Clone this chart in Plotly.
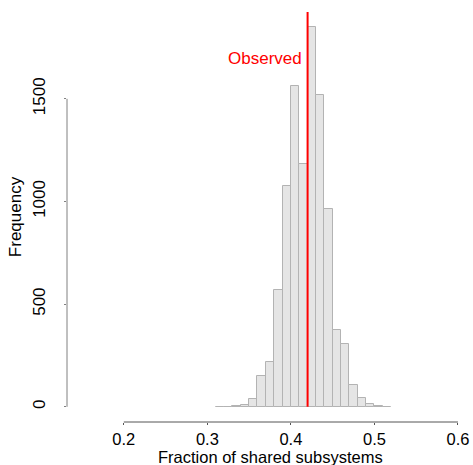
import plotly.graph_objects as go

# Histogram data (bin left edges, width 0.01)
bin_left = [0.31, 0.32, 0.33, 0.34, 0.35, 0.36, 0.37, 0.38, 0.39, 0.40, 0.41,
            0.42, 0.43, 0.44, 0.45, 0.46, 0.47, 0.48, 0.49, 0.50, 0.51]
counts = [1, 1, 3, 11, 37, 149, 216, 568, 1074, 1564, 1183,
          1849, 1517, 962, 373, 308, 106, 42, 16, 3, 1]
bin_width = 0.01
observed = 0.42

x_ticks = [0.2, 0.3, 0.4, 0.5, 0.6]
x_labels = ["0.2", "0.3", "0.4", "0.5", "0.6"]
y_ticks = [0, 500, 1000, 1500]
y_labels = ["0", "500", "1000", "1500"]

# R-style ranges: xlim c(0.15, 0.6), ylim c(0, max) extended by 4%
xlim = (0.15, 0.6)
ylim = (0, max(counts))
dx = (xlim[1] - xlim[0]) * 0.04
dy = (ylim[1] - ylim[0]) * 0.04
x_range = [xlim[0] - dx, xlim[1] + dx]
y_range = [ylim[0] - dy, ylim[1] + dy]

centers = [b + bin_width / 2 for b in bin_left]

font = "Liberation Sans, Arial, Helvetica, sans-serif"

fig = go.Figure()
fig.add_trace(go.Bar(
    x=centers, y=counts, width=[bin_width] * len(counts),
    marker=dict(color="#e5e5e5", line=dict(color="#b3b3b3", width=1)),
    hoverinfo="x+y", showlegend=False,
))

shapes = [
    # observed line
    dict(type="line", xref="x", yref="y", x0=observed, x1=observed,
         y0=0, y1=y_range[1], line=dict(color="#ff0000", width=2)),
    # x axis line (0.2 .. 0.6) at bottom of plot region
    dict(type="line", xref="x", yref="paper", x0=x_ticks[0], x1=x_ticks[-1],
         y0=0, y1=0, line=dict(color="#555555", width=1)),
    # y axis line (0 .. 1500) at left of plot region
    dict(type="line", xref="paper", yref="y", x0=0, x1=0,
         y0=y_ticks[0], y1=y_ticks[-1], line=dict(color="#808080", width=1)),
]

fig.update_layout(
    width=473, height=465,
    margin=dict(l=67, r=0, t=12, b=43, pad=0),
    paper_bgcolor="white", plot_bgcolor="white",
    bargap=0,
    shapes=shapes,
    font=dict(family=font, size=17, color="black"),
    annotations=[
        dict(
            x=observed, y=1697, xref="x", yref="y", text="Observed",
            showarrow=False, xanchor="right", yanchor="middle", xshift=-4,
            font=dict(family=font, size=17, color="#ff0000"),
        ),
        dict(
            x=0.5, y=0, xref="paper", yref="paper",
            text="Fraction of shared subsystems",
            showarrow=False, xanchor="center", yanchor="top", yshift=-25,
            borderpad=0,
            font=dict(family=font, size=16.5, color="black"),
        ),
    ],
    xaxis=dict(
        range=x_range, showgrid=False, zeroline=False, showline=False,
        tickmode="array", tickvals=x_ticks, ticktext=x_labels,
        ticks="outside", ticklen=2, tickcolor="#555555",
        ticklabelstandoff=0, tickfont=dict(size=16.5),
    ),
    yaxis=dict(
        range=y_range, showgrid=False, zeroline=False, showline=False,
        tickmode="array", tickvals=y_ticks, ticktext=y_labels,
        ticks="outside", ticklen=2, tickcolor="#808080",
        tickangle=-90, ticklabelstandoff=12,
        title=dict(text="Frequency", standoff=4, font=dict(size=17)),
    ),
)

fig.write_html("out.html")
